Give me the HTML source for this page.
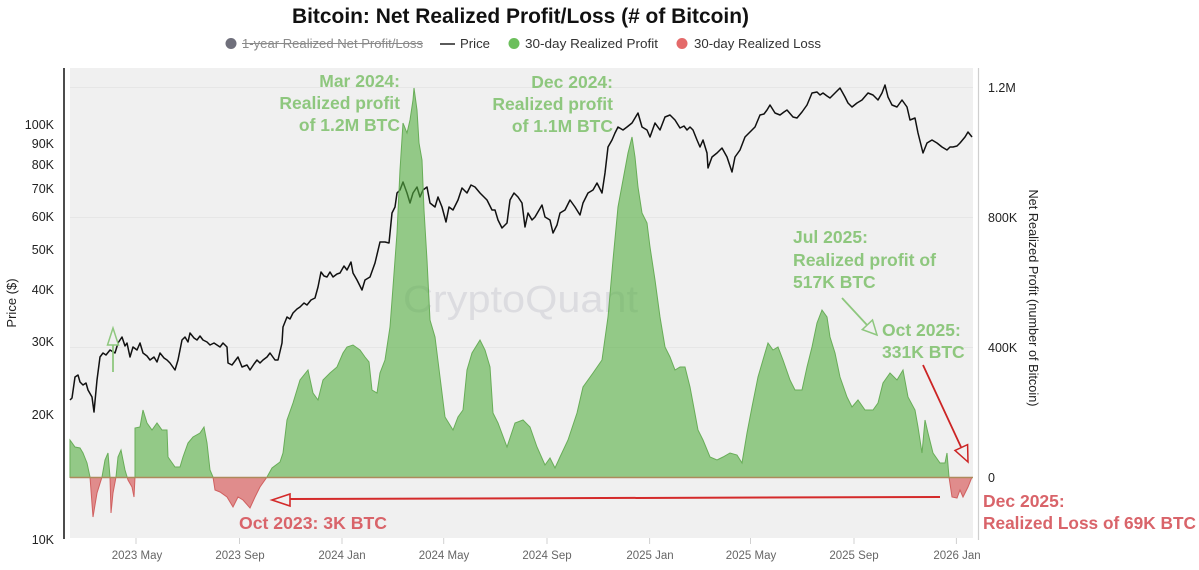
<!DOCTYPE html>
<html>
<head>
<meta charset="utf-8">
<style>
  html,body{margin:0;padding:0;background:#ffffff;}
  svg{display:block;font-family:"Liberation Sans",Arial,sans-serif;}
</style>
</head>
<body>
<svg width="1199" height="570" viewBox="0 0 1199 570" xmlns="http://www.w3.org/2000/svg">
  <defs>
    <clipPath id="above"><rect x="60" y="60" width="920" height="417.5"/></clipPath>
    <clipPath id="below"><rect x="60" y="477.5" width="920" height="80"/></clipPath>
  </defs>

  <!-- Title -->
  <text x="292" y="23" font-size="21" font-weight="bold" fill="#111" textLength="457" lengthAdjust="spacingAndGlyphs">Bitcoin: Net Realized Profit/Loss (# of Bitcoin)</text>

  <!-- Legend -->
  <circle cx="231" cy="43.5" r="5.5" fill="#6f6f7b"/>
  <text x="242" y="48" font-size="13" fill="#8a8a8a" textLength="181" lengthAdjust="spacingAndGlyphs">1-year Realized Net Profit/Loss</text>
  <line x1="242" y1="43.5" x2="423" y2="43.5" stroke="#8a8a8a" stroke-width="1"/>
  <line x1="440" y1="44" x2="455" y2="44" stroke="#222" stroke-width="1.5"/>
  <text x="460" y="48" font-size="13" fill="#333" textLength="30" lengthAdjust="spacingAndGlyphs">Price</text>
  <circle cx="514" cy="43.5" r="5.5" fill="#6cbf5c"/>
  <text x="525" y="48" font-size="13" fill="#333" textLength="133" lengthAdjust="spacingAndGlyphs">30-day Realized Profit</text>
  <circle cx="682" cy="43.5" r="5.5" fill="#e46a6a"/>
  <text x="694" y="48" font-size="13" fill="#333" textLength="127" lengthAdjust="spacingAndGlyphs">30-day Realized Loss</text>

  <!-- Plot background -->
  <rect x="70" y="68" width="903" height="470" fill="#f0f0f0"/>
  <!-- gridlines -->
  <line x1="70" y1="87.5" x2="973" y2="87.5" stroke="#e6e6e6" stroke-width="1"/>
  <line x1="70" y1="217.5" x2="973" y2="217.5" stroke="#e6e6e6" stroke-width="1"/>
  <line x1="70" y1="347.5" x2="973" y2="347.5" stroke="#e6e6e6" stroke-width="1"/>

  <!-- watermark -->
  <text x="403" y="312" font-size="38" fill="#dcdce0" textLength="235" lengthAdjust="spacingAndGlyphs">CryptoQuant</text>

  <!-- Axes lines -->
  <line x1="64" y1="68" x2="64" y2="539" stroke="#111" stroke-width="1.5"/>
  <line x1="978.5" y1="68" x2="978.5" y2="540" stroke="#cfcfcf" stroke-width="1.2"/>

  <!-- Left axis labels -->
  <g font-size="12.5" fill="#222" text-anchor="end">
    <text x="54" y="129">100K</text>
    <text x="54" y="148">90K</text>
    <text x="54" y="169">80K</text>
    <text x="54" y="193">70K</text>
    <text x="54" y="221">60K</text>
    <text x="54" y="254">50K</text>
    <text x="54" y="294">40K</text>
    <text x="54" y="346">30K</text>
    <text x="54" y="419">20K</text>
    <text x="54" y="544">10K</text>
  </g>
  <text transform="translate(16,303) rotate(-90)" font-size="13" fill="#222" text-anchor="middle">Price ($)</text>

  <!-- Right axis labels -->
  <g font-size="12.5" fill="#222">
    <text x="988" y="92">1.2M</text>
    <text x="988" y="222">800K</text>
    <text x="988" y="352">400K</text>
    <text x="988" y="482">0</text>
  </g>
  <text transform="translate(1029,298) rotate(90)" font-size="13" fill="#222" text-anchor="middle" textLength="217" lengthAdjust="spacingAndGlyphs">Net Realized Profit (number of Bitcoin)</text>

  <!-- X ticks -->
  <g stroke="#d0d0d0" stroke-width="1">
    <line x1="136" y1="538" x2="136" y2="544"/>
    <line x1="239.5" y1="538" x2="239.5" y2="544"/>
    <line x1="342" y1="538" x2="342" y2="544"/>
    <line x1="443.7" y1="538" x2="443.7" y2="544"/>
    <line x1="547" y1="538" x2="547" y2="544"/>
    <line x1="649.6" y1="538" x2="649.6" y2="544"/>
    <line x1="750.5" y1="538" x2="750.5" y2="544"/>
    <line x1="854" y1="538" x2="854" y2="544"/>
    <line x1="956.4" y1="538" x2="956.4" y2="544"/>
  </g>
  <g font-size="11.5" fill="#666" text-anchor="middle">
    <text x="137" y="559">2023 May</text>
    <text x="240" y="559">2023 Sep</text>
    <text x="342" y="559">2024 Jan</text>
    <text x="444" y="559">2024 May</text>
    <text x="547" y="559">2024 Sep</text>
    <text x="650" y="559">2025 Jan</text>
    <text x="751" y="559">2025 May</text>
    <text x="854" y="559">2025 Sep</text>
    <text x="957" y="559">2026 Jan</text>
  </g>

  <!-- Price line -->
  <polyline fill="none" stroke="#111" stroke-width="1.5" stroke-linejoin="round" points="70,400 72,398 75,377 78,375 80,382 83,385 86,383 88,390 92,397 94,412 97,380 100,357 103,353 106,355 110,350 115,353 118,343 122,337 125,346 127,343 130,357 133,347 137,350 140,343 143,353 147,356 150,360 154,357 157,362 160,353 164,358 167,360 170,363 175,370 178,360 182,340 185,337 188,342 190,333 194,338 197,340 200,336 203,340 207,342 210,345 214,343 217,345 220,347 223,343 227,347 228,363 232,365 235,361 238,357 242,367 247,365 250,370 254,364 257,360 260,363 263,360 267,357 270,353 275,360 278,360 282,343 283,327 287,317 290,319 293,313 297,309 300,307 304,303 307,305 311,300 315,298 318,287 321,272 324,276 327,277 330,272 333,277 337,274 340,273 344,266 347,270 351,262 353,273 357,280 362,290 365,280 370,277 375,263 380,242 385,242 389,243 392,213 395,207 397,193 400,190 403,182 407,193 410,203 413,193 417,187 420,197 423,190 427,187 430,203 435,207 438,197 442,207 446,222 449,207 453,210 458,200 462,188 467,193 471,185 475,187 480,193 487,200 492,210 495,210 498,220 502,228 507,223 510,200 514,193 518,197 522,203 525,227 528,213 532,220 535,217 542,205 545,217 550,220 553,233 557,225 560,213 565,210 570,200 575,207 580,215 583,203 588,193 593,190 597,183 602,193 605,173 608,147 612,140 615,133 618,127 623,130 627,127 632,123 635,118 638,113 642,127 647,130 650,137 655,123 660,130 665,117 670,115 675,120 680,128 684,126 687,130 690,127 693,130 697,140 700,147 703,140 707,153 708,168 712,157 717,153 722,148 727,157 732,172 735,157 740,150 745,137 750,132 755,127 760,115 764,114 767,110 770,105 775,113 780,115 784,112 787,110 793,117 797,118 802,112 807,105 812,93 817,92 820,95 823,93 827,96 830,98 835,93 840,88 845,97 848,103 852,107 857,103 862,100 868,93 873,95 878,100 882,93 885,85 888,97 892,105 897,107 902,100 907,107 910,120 915,118 918,133 923,153 927,143 932,140 937,143 942,147 947,150 950,147 953,147 957,146 960,143 965,137 968,132 972,137"/>

  <!-- Profit / loss area -->
  <g clip-path="url(#above)">
    <path id="areaG" fill="rgb(85,175,65)" fill-opacity="0.6" stroke="#68ad58" stroke-width="1" d="M70,477.5 L70,440 75,447 80,448 83,453 87,463 90,477 93,517 97,493 102,477 105,460 108,453 110,477 111,513 113,493 116,477 118,457 121,450 125,470 128,480 132,487 134,497 135,477 135,428 140,427 143,410 147,423 152,430 157,423 162,430 167,430 168,457 175,467 180,467 183,457 188,443 193,437 200,433 204,427 207,443 210,470 213,477 215,490 220,492 227,497 233,507 238,497 243,500 250,508 255,497 260,487 267,477 272,468 280,462 283,453 287,420 293,403 300,380 308,370 313,393 318,400 323,380 330,373 337,367 343,353 347,347 353,345 360,350 365,357 369,362 372,390 377,393 380,373 385,360 390,327 393,287 397,233 400,170 403,123 407,133 410,120 413,100 414,88 417,110 419,143 422,160 424,210 427,260 430,320 435,337 440,377 445,417 453,430 458,417 463,410 467,370 472,353 480,340 485,350 490,367 493,413 498,423 507,447 515,423 523,420 530,427 537,447 545,465 550,458 555,468 560,457 568,440 577,413 583,387 593,373 602,360 608,317 613,260 618,207 623,180 628,153 632,137 635,157 638,187 642,213 647,223 650,247 655,280 660,317 665,347 670,357 675,370 680,367 685,367 690,387 693,403 698,430 703,440 710,457 717,460 723,457 730,453 737,455 742,463 747,433 752,407 758,377 765,353 768,343 773,350 778,347 783,360 790,380 795,390 802,390 807,367 812,347 817,323 822,310 827,317 830,337 835,353 840,377 847,397 852,407 858,400 865,410 873,410 878,403 883,383 890,373 897,380 903,370 908,397 915,410 918,427 922,453 925,420 928,433 933,453 940,463 945,463 947,453 949,477 952,497 957,498 960,490 963,497 968,487 972,477 L972,477.5 Z"/>
  </g>
  <g clip-path="url(#below)">
    <path fill="rgb(213,73,73)" fill-opacity="0.6" stroke="#d06060" stroke-width="1" d="M70,477.5 L70,440 75,447 80,448 83,453 87,463 90,477 93,517 97,493 102,477 105,460 108,453 110,477 111,513 113,493 116,477 118,457 121,450 125,470 128,480 132,487 134,497 135,477 135,428 140,427 143,410 147,423 152,430 157,423 162,430 167,430 168,457 175,467 180,467 183,457 188,443 193,437 200,433 204,427 207,443 210,470 213,477 215,490 220,492 227,497 233,507 238,497 243,500 250,508 255,497 260,487 267,477 272,468 280,462 283,453 287,420 L940,463 945,463 947,453 949,477 952,497 957,498 960,490 963,497 968,487 972,477 L972,477.5 Z"/>
  </g>
  <!-- zero line -->
  <line x1="70" y1="477.5" x2="973" y2="477.5" stroke="#ad8a5c" stroke-width="1.5"/>

  <!-- Annotations: green -->
  <g font-size="17.5" font-weight="bold" fill="#8ec77e">
    <text x="400" y="87" text-anchor="end">Mar 2024:</text>
    <text x="400" y="109" text-anchor="end">Realized profit</text>
    <text x="400" y="131" text-anchor="end">of 1.2M BTC</text>

    <text x="613" y="88" text-anchor="end">Dec 2024:</text>
    <text x="613" y="110" text-anchor="end">Realized profit</text>
    <text x="613" y="132" text-anchor="end">of 1.1M BTC</text>

    <text x="793" y="243">Jul 2025:</text>
    <text x="793" y="266" textLength="143" lengthAdjust="spacingAndGlyphs">Realized profit of</text>
    <text x="793" y="288">517K BTC</text>

    <text x="882" y="336">Oct 2025:</text>
    <text x="882" y="358">331K BTC</text>
  </g>

  <!-- Annotations: red -->
  <g font-size="17.5" font-weight="bold" fill="#d9646a">
    <text x="239" y="529" textLength="148" lengthAdjust="spacingAndGlyphs">Oct 2023: 3K BTC</text>
    <text x="983" y="507">Dec 2025:</text>
    <text x="983" y="529" textLength="213" lengthAdjust="spacingAndGlyphs">Realized Loss of 69K BTC</text>
  </g>

  <!-- Green up arrow (early 2023) -->
  <line x1="113" y1="345" x2="113" y2="372" stroke="#8ec77e" stroke-width="1.8"/>
  <polygon points="113,328 107.5,345 118.5,345" fill="#f0f0f0" stroke="#8ec77e" stroke-width="1.5"/>

  <!-- Green arrow Jul -> Oct 2025 -->
  <line x1="842" y1="298" x2="867" y2="325" stroke="#8ec77e" stroke-width="1.8"/>
  <polygon points="877,335 862.3,329.6 872.5,320" fill="#f0f0f0" stroke="#8ec77e" stroke-width="1.5"/>

  <!-- Red arrow Oct 2025 -> Dec 2025 -->
  <line x1="923" y1="365" x2="961" y2="447" stroke="#cc2424" stroke-width="1.8"/>
  <polygon points="968,462 955,450.4 967.6,444.6" fill="#f0f0f0" stroke="#cc2424" stroke-width="1.5"/>

  <!-- Red horizontal arrow -->
  <line x1="940" y1="497" x2="290" y2="499" stroke="#d42a2a" stroke-width="2"/>
  <polygon points="272,500 290,494 290,506" fill="#f0f0f0" stroke="#d42a2a" stroke-width="1.6"/>
</svg>
</body>
</html>
